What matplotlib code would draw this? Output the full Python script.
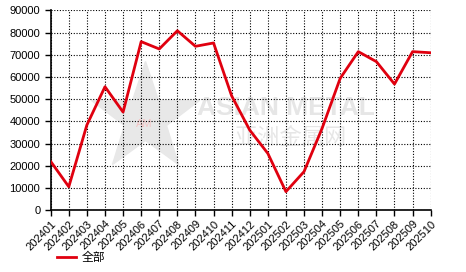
import matplotlib
matplotlib.use("Agg")
import matplotlib.pyplot as plt

# monthly values
months = ["202401", "202402", "202403", "202404", "202405", "202406",
          "202407", "202408", "202409", "202410", "202411", "202412",
          "202501", "202502", "202503", "202504", "202505", "202506",
          "202507", "202508", "202509", "202510"]
values = [22000, 10600, 38400, 55600, 44200, 75900,
          72600, 80800, 73800, 75300, 51500, 36100,
          25600, 8400, 17400, 36900, 59400, 71400,
          66900, 56800, 71400, 70900]
yticks = list(range(0, 90001, 10000))
series_name = "全部"

plt.rcParams['font.family'] = ['Liberation Sans', 'Noto Sans CJK SC', 'DejaVu Sans']

fig = plt.figure(figsize=(4.66, 2.72), dpi=100)
ax = fig.add_axes([0.1088, 0.2268, 0.8154, 0.7353])

x = list(range(len(months)))

### watermark
ax.text(0.385, 0.51, "ASIAN METAL", transform=ax.transAxes, fontsize=19,
        fontweight='bold', color='#e6e6e6', ha='left', va='center', zorder=0)
ax.text(0.485, 0.366, "亚洲金属网", transform=ax.transAxes, fontsize=16,
        color='#e6e6e6', ha='left', va='center', zorder=0,
        family=['Noto Sans CJK SC'])
ax.plot([0.248], [0.46], transform=ax.transAxes, marker='*', markersize=82,
        color='#e8e8e8', zorder=0)
ax.text(0.245, 0.43, "AM", transform=ax.transAxes, fontsize=8,
        color='#f4c4c4', ha='center', va='center', zorder=0)

### data
ax.plot(x, values, color='#e0000f', lw=2, solid_joinstyle='round',
        label=series_name, zorder=3)

ax.set_xlim(0, len(months) - 1)
ax.set_ylim(0, 90000)
ax.set_yticks(yticks)
ax.set_yticklabels([str(v) for v in yticks])
ax.set_xticks(x)
ax.set_xticklabels(months, rotation=45, ha='right', va='top',
                   rotation_mode='anchor')

ax.grid(True, color='black', linestyle=(0, (1, 1.5)), lw=0.8)
ax.set_axisbelow(True)
for s in ['top', 'right']:
    ax.spines[s].set_visible(False)
ax.spines['left'].set_linewidth(1.2)
ax.spines['bottom'].set_linewidth(1.2)
ax.tick_params(axis='both', labelsize=8, length=4, width=1, colors='black')
ax.tick_params(axis='x', pad=2)

fig.legend(loc='lower left', bbox_to_anchor=(0.1, -0.01), frameon=False,
           handlelength=1.6, handletextpad=0.5,
           prop={'family': ['Noto Sans CJK SC'], 'size': 8.5})

plt.savefig("out.png", dpi=100)
